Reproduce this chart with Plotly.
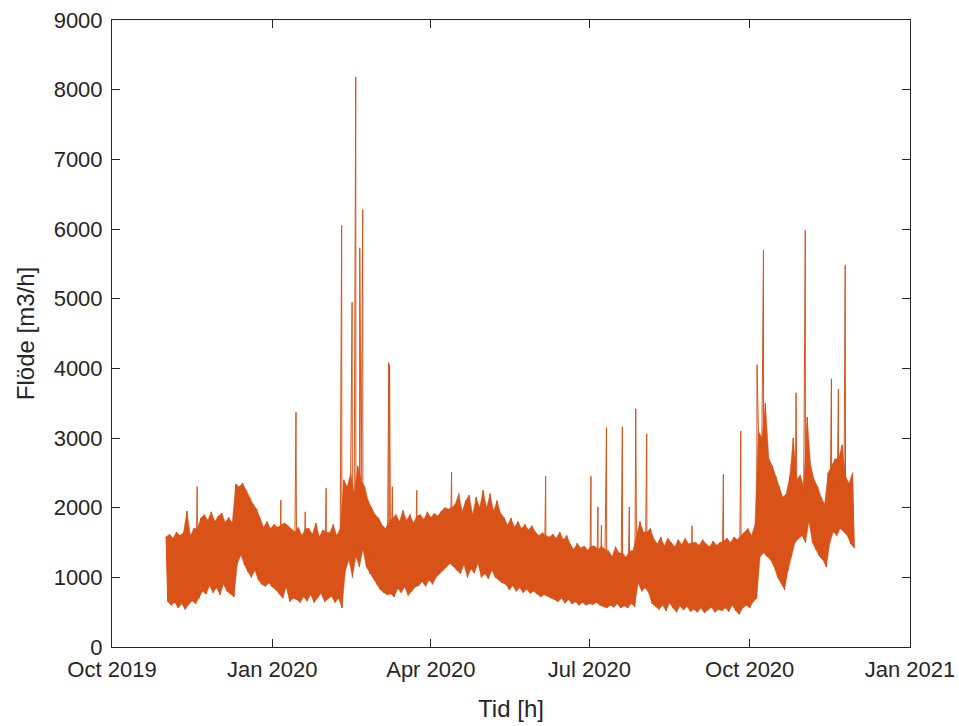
import pandas as pd
import plotly.graph_objects as go

# ---- data -----------------------------------------------------------------
# daily readings starting 2019-11-01; even days = daily peak, odd days = daily low
start_date = "2019-11-01"
daily_flow = [
    1580, 650, 1620, 600, 1560, 640, 1650, 560, 1600, 620,
    1640, 540, 1950, 610, 1600, 660, 1700, 620, 1700, 700,
    1850, 800, 1900, 760, 1820, 880, 1940, 780, 1800, 850,
    1880, 750, 1920, 900, 1790, 800, 1860, 760, 1780, 720,
    2340, 1200, 2300, 1320, 2350, 1180, 2250, 1080, 2150, 1000,
    2050, 1100, 1980, 960, 1840, 900, 1720, 870, 1800, 920,
    1700, 860, 1760, 820, 1720, 760, 1750, 700, 1780, 860,
    1740, 650, None, 700, 1650, 680, 1720, 640, 1600, 720,
    1700, 660, 1700, 750, 1620, 640, 1780, 700, 1580, 770,
    1680, 650, 1650, 690, 1640, 730, 1760, 640, 1600, 700,
    1700, 560, 2400, 1100, 2300, 1250, 2500, 1000, 2200, 1300,
    2600, 1150, 2400, 1400, 2300, 1150, 2100, 1050, 2000, 980,
    1900, 900, 1850, 820, 1750, 780, 1700, 750, 1800, 760,
    1850, 720, 1900, 840, 1800, 780, 1960, 860, 1820, 740,
    1900, 800, 1780, 860, 1880, 880, 1900, 940, 1830, 870,
    1940, 960, 1860, 900, 1920, 1000, 1880, 1050, 1950, 1100,
    2000, 1150, 1980, 1200, 2000, 1150, 2050, 1100, 2200, 1050,
    1950, 1180, 2100, 1000, 2180, 1120, 1900, 1060, 2150, 1200,
    2000, 1000, 2250, 1050, 2000, 980, 2200, 1100, 1950, 1000,
    2100, 960, 1920, 920, 1860, 900, 1750, 820, 1850, 880,
    1720, 800, 1800, 850, 1700, 780, 1760, 830, 1680, 770,
    1740, 800, 1650, 760, 1600, 720, 1640, 750, 1600, 730,
    1580, 700, 1620, 680, 1560, 650, 1650, 700, 1540, 630,
    1600, 680, 1480, 620, 1400, 650, 1490, 600, 1420, 640,
    1450, 600, 1390, 620, 1450, 610, 1450, 640, 1400, 600,
    1450, 580, 1400, 560, 1380, 600, 1300, 570, 1440, 620,
    1350, 560, 1350, 590, 1290, 560, 1380, 620, 1380, 580,
    1600, 920, 1800, 800, 1650, 850, 1650, 780, 1700, 620,
    1550, 580, 1480, 540, 1580, 600, 1450, 520, 1560, 630,
    1500, 560, 1440, 500, 1540, 590, 1470, 530, 1560, 580,
    1480, 510, 1500, 540, 1500, 500, 1460, 560, 1540, 490,
    1480, 530, 1440, 570, 1520, 500, 1460, 540, 1500, 520,
    1520, 560, 1560, 510, 1500, 600, 1580, 520, 1540, 470,
    1600, 560, 1650, 600, 1700, 560, 1600, 650, 1750, 700,
    3100, 1300, 3000, 1350, 3500, 1300, 2700, 1250, 2600, 1150,
    2450, 1000, 2300, 920, 2150, 820, 2200, 1100, 2450, 1300,
    3000, 1500, 2400, None, 2470, 1600, 2300, 1500, 3300, 1800,
    2600, 1500, 2400, 1400, 2300, 1300, 2150, 1250, 2050, 1150,
    2500, 1500, 2600, 1650, 2700, 1600, 2700, 1700, 2900, 1650,
    2450, 1600, 2350, 1480, 2500, 1420,
]
# short peaks between the daily readings (day offset from start, value)
spike_day = [17.9, 65.9, 74.6, 79.9, 91.9, 100.4, 100.8, 106.8, 108.9, 111.2,
             112.9, 127.8, 128.3, 129.9, 143.9, 163.9, 217.9, 243.9, 247.9,
             249.9, 252.8, 261.9, 265.9, 269.6, 269.8, 275.9, 301.9, 319.9,
             329.9, 339.2, 342.9, 361.6, 366.9, 381.9, 385.9, 389.8]
spike_flow = [2300, 2110, 3370, 1940, 2280, 4450, 6050, 4950, 8180, 5730,
              6280, 4080, 4050, 2300, 2250, 2510, 2450, 2450, 2010,
              1750, 3150, 3160, 2010, 3420, 2750, 3060, 1740, 2480,
              3100, 4050, 5700, 3650, 5980, 3850, 3700, 5480]

y_ticks = [0, 1000, 2000, 3000, 4000, 5000, 6000, 7000, 8000, 9000]
x_range = ["2019-10-01", "2021-01-01"]
line_col = "#D95319"

# ---- build the time series --------------------------------------------------
t0 = pd.Timestamp(start_date)
rows = [(float(d), v) for d, v in enumerate(daily_flow)]
rows += list(zip(spike_day, spike_flow))
rows.sort(key=lambda r: r[0])
times = [t0 + pd.Timedelta(days=d) for d, _ in rows]
vals = [v for _, v in rows]

# band between the daily peaks and the daily lows (the dense hourly swing)
peaks = [(d, v) for d, v in enumerate(daily_flow) if d % 2 == 0 and v is not None]
lows = [(d, v) for d, v in enumerate(daily_flow) if d % 2 == 1 and v is not None]
band = peaks + lows[::-1]
band_x = [t0 + pd.Timedelta(days=d) for d, _ in band]
band_y = [v for _, v in band]

fig = go.Figure()
fig.add_trace(go.Scatter(
    x=band_x, y=band_y, mode="lines", fill="toself",
    fillcolor=line_col, line=dict(color=line_col, width=0.5),
    showlegend=False, hoverinfo="skip",
))
fig.add_trace(go.Scatter(
    x=times, y=vals, mode="lines",
    line=dict(color=line_col, width=1),
    connectgaps=False, showlegend=False,
))

axis_col = "#262626"
font_family = "Liberation Sans, Arial, Helvetica, sans-serif"
fig.update_layout(
    width=959, height=726,
    margin=dict(l=112, r=49, t=20, b=79, autoexpand=False),
    paper_bgcolor="white", plot_bgcolor="white",
    font=dict(family=font_family, size=22, color=axis_col),
)
fig.update_xaxes(
    range=x_range, type="date", automargin=False,
    tick0="2019-10-01", dtick="M3", tickformat="%b %Y",
    ticks="inside", ticklen=8, tickcolor=axis_col, tickwidth=1,
    showline=True, linecolor=axis_col, linewidth=1, mirror="ticks",
    showgrid=False, zeroline=False, ticklabelstandoff=3,
    tickfont=dict(size=22, color=axis_col),
    title=dict(text="Tid [h]", font=dict(size=24, color=axis_col), standoff=18),
)
fig.update_yaxes(
    range=[0, 9000], tickvals=y_ticks, ticktext=[str(v) for v in y_ticks],
    automargin=False, ticklabelstandoff=4,
    ticks="inside", ticklen=8, tickcolor=axis_col, tickwidth=1,
    showline=True, linecolor=axis_col, linewidth=1, mirror="ticks",
    showgrid=False, zeroline=False,
    tickfont=dict(size=22, color=axis_col),
    title=dict(text="Flöde [m3/h]", font=dict(size=24, color=axis_col), standoff=12),
)

fig.write_html("out.html")
